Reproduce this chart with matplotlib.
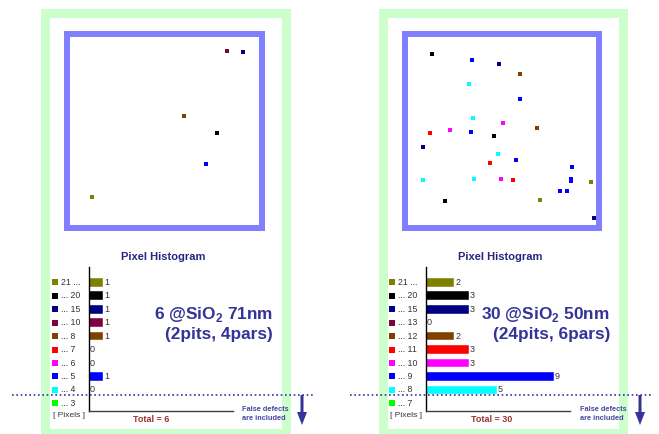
import numpy as np
import matplotlib
matplotlib.use('Agg')
import matplotlib.pyplot as plt
from matplotlib.patches import Rectangle

plt.rcParams['font.family'] = ['Liberation Sans', 'DejaVu Sans']

# bin colours, shared by both panels (top row first)
bin_colors = ['#808000', '#000000', '#000080', '#800040', '#804000',
              '#FF0000', '#FF00FF', '#0000FF', '#00FFFF', '#00FF00']

# left panel: 71nm
left_bins = ['21 ...', '... 20', '... 15', '... 10', '... 8',
             '... 7', '... 6', '... 5', '... 4', '... 3']
left_counts = [1, 1, 1, 1, 1, 0, 0, 1, 0]
left_map_x = [163, 179, 120, 153, 142, 28]
left_map_y = [20, 21, 85, 102, 133, 166]
left_map_bin = [3, 2, 4, 1, 7, 0]
left_title = ['6 @SiO$_\\mathregular{2}$ 71nm', '(2pits, 4pars)']
left_total = 'Total = 6'

# right panel: 50nm
right_bins = ['21 ...', '... 20', '... 15', '... 13', '... 12',
              '... 11', '... 10', '... 9', '... 8', '... 7']
right_counts = [2, 3, 3, 0, 2, 3, 3, 9, 5]
right_map_x = [30, 70, 97, 118, 67, 118, 71, 101, 135, 28, 48, 69, 92, 21, 96,
               114, 88, 170, 21, 72, 99, 111, 169, 169, 189, 158, 165, 138, 43, 192]
right_map_y = [23, 29, 33, 43, 53, 68, 87, 92, 97, 102, 99, 101, 105, 116, 123,
               129, 132, 136, 149, 148, 148, 149, 148, 150, 151, 160, 160, 169, 170, 187]
right_map_bin = [1, 7, 2, 4, 8, 7, 8, 6, 4, 5, 6, 7, 1, 2, 8,
                 7, 5, 7, 8, 8, 6, 5, 7, 7, 0, 7, 7, 0, 1, 2]
right_title = ['30 @SiO$_\\mathregular{2}$ 50nm', '(24pits, 6pars)']
right_total = 'Total = 30'

W, H = 659, 434
fig = plt.figure(figsize=(W / 100, H / 100), dpi=100)


def box(x0, y0, x1, y1):
    return [x0 / W, 1 - y1 / H, (x1 - x0) / W, (y1 - y0) / H]


def pixel_axes(zorder):
    a = fig.add_axes([0, 0, 1, 1], zorder=zorder)
    a.set_xlim(0, W)
    a.set_ylim(H, 0)
    a.axis('off')
    a.patch.set_visible(False)
    return a


# background: green panel frames
bg = pixel_axes(0)
for x0, x1 in [(44.5, 285.5), (382.5, 622.5)]:
    bg.add_patch(Rectangle((x0, 12.5), x1 - x0, 420, fill=False,
                           ec='#CCFFCC', lw=6.5))

panels = [
    (67, 262, 3, 198, 89, left_bins, left_counts, left_map_x, left_map_y,
     left_map_bin, left_title, left_total, 273, 151, 242, 302),
    (405, 599, 3, 197, 426, right_bins, right_counts, right_map_x, right_map_y,
     right_map_bin, right_title, right_total, 610, 492, 580, 640),
]

fg = pixel_axes(5)
px_per_unit = 14.2

for (mx0, mx1, xl0, xl1, hx, bins, counts, mxs, mys, mbin,
     title, total, tx, totx, fx, arx) in panels:
    # wafer map
    m = fig.add_axes(box(mx0, 34, mx1, 228), zorder=2)
    m.set_xlim(xl0, xl1)
    m.set_ylim(197, 3)
    m.set_xticks([])
    m.set_yticks([])
    for s in m.spines.values():
        s.set_color('#8080FF')
        s.set_linewidth(4.32)
    m.add_patch(Rectangle((0.005, 0.005), 0.99, 0.99, transform=m.transAxes,
                          fill=False, ec='#D0D0FF', lw=0.8))
    for x, y, b in zip(mxs, mys, mbin):
        m.plot(x, y, 's', color=bin_colors[b], ms=2.2, mew=0)

    # pixel histogram
    h = fig.add_axes(box(hx, 267, hx + 144, 411), zorder=2)
    h.patch.set_visible(False)
    rows = np.arange(len(counts))
    h.barh(rows, counts, height=0.65, color=bin_colors[:len(counts)],
           edgecolor='#FFFFFF', linewidth=0.3)
    h.set_xlim(0, 144 / px_per_unit)
    h.set_ylim(9.57, -1.14)
    h.set_xticks([])
    h.set_yticks([])
    h.spines['top'].set_visible(False)
    h.spines['right'].set_visible(False)
    h.spines['left'].set_color('#000000')
    h.spines['bottom'].set_color('#404040')
    h.spines['left'].set_linewidth(1.0)
    h.spines['bottom'].set_linewidth(1.0)
    for r, c in zip(rows, counts):
        h.text(c + 0.05, r, str(c), fontsize=6.5, color='#333333',
               va='center', ha='left')
    yt = h.get_yaxis_transform()
    for r, (lab, col) in enumerate(zip(bins, bin_colors)):
        h.plot(-34 / 144, r, 's', color=col, ms=4.0, mew=0,
               transform=yt, clip_on=False)
        h.text(-28 / 144, r, lab, fontsize=6.3, color='#333333',
               va='center', ha='left', transform=yt)

    fg.text(hx - 36, 415.7, '[ Pixels ]', fontsize=6, color='#333333',
            va='center', ha='left')
    fg.text(hx + 74, 257, 'Pixel Histogram', fontsize=8, fontweight='bold',
            color='#262680', ha='center', va='center')
    fg.text(tx, 314, title[0], fontsize=12.4, fontweight='bold',
            color='#333399', ha='right', va='center')
    fg.text(tx, 334, title[1], fontsize=12.4, fontweight='bold',
            color='#333399', ha='right', va='center')
    fg.text(totx, 419.3, total, fontsize=6.5, fontweight='bold',
            color='#993333', ha='center', va='center')
    fg.text(fx, 409.3, 'False defects', fontsize=5.3, fontweight='bold',
            color='#4646A0', ha='left', va='center')
    fg.text(fx, 418.3, 'are included', fontsize=5.3, fontweight='bold',
            color='#4646A0', ha='left', va='center')
    fg.arrow(arx, 395, 0, 30, width=3, head_width=10, head_length=13,
             length_includes_head=True, color='#333399', lw=0)

# dotted separator lines
for x0, x1 in [(12, 315), (350, 653)]:
    fg.plot([x0, x1], [395, 395], color='#333399', lw=1.2,
            linestyle=(0, (1, 1.6)))

fig.savefig('out.png', dpi=100)
